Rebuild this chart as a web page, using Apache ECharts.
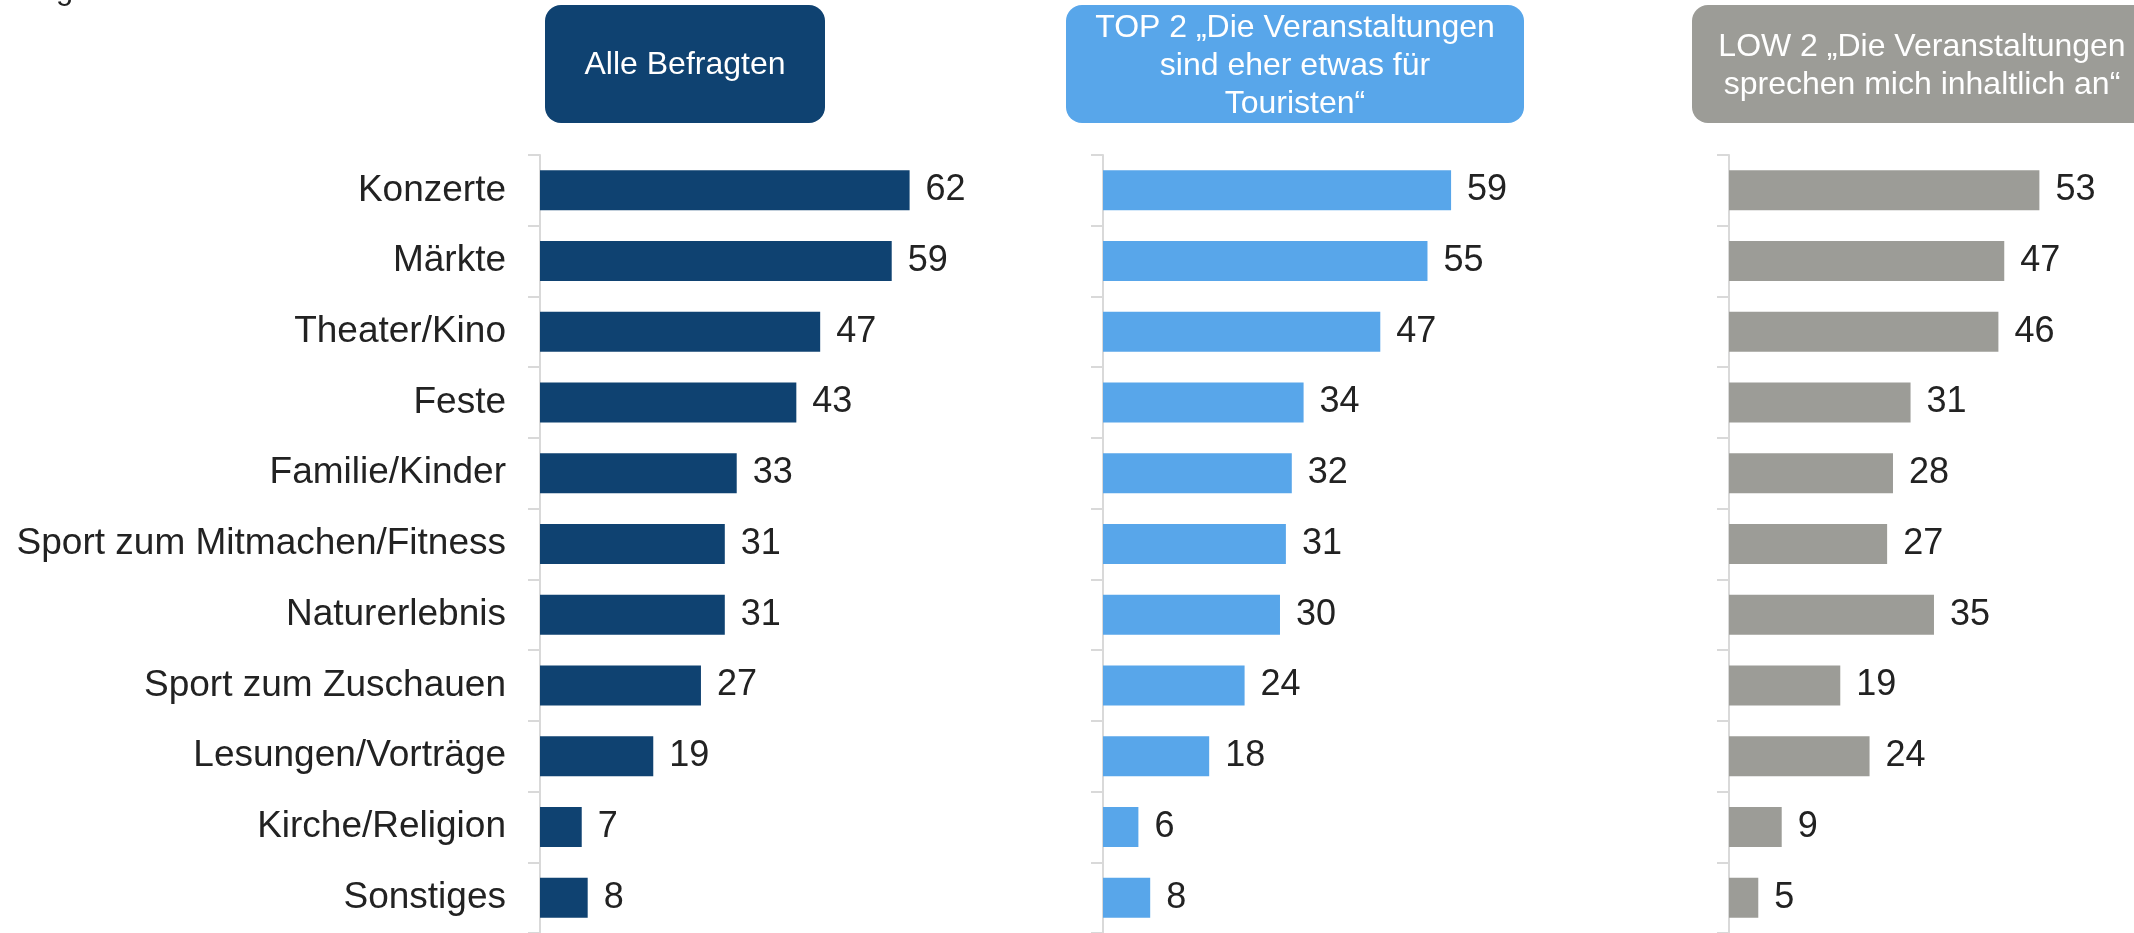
<!DOCTYPE html>
<html>
<head>
<meta charset="utf-8">
<script src="https://cdn.jsdelivr.net/npm/echarts@6/dist/echarts.min.js"></script>
<style>
  html, body { margin: 0; padding: 0; background: #fff; }
  #chart { width: 2134px; height: 933px; }
</style>
</head>
<body>
<div id="chart"></div>
<script>
  // Kategorien und Werte (Angaben in %)
  const categories = ['Konzerte', 'Märkte', 'Theater/Kino', 'Feste', 'Familie/Kinder',
    'Sport zum Mitmachen/Fitness', 'Naturerlebnis', 'Sport zum Zuschauen',
    'Lesungen/Vorträge', 'Kirche/Religion', 'Sonstiges'];
  const alleBefragten = [62, 59, 47, 43, 33, 31, 31, 27, 19, 7, 8];
  const top2Touristen = [59, 55, 47, 34, 32, 31, 30, 24, 18, 6, 8];
  const low2Inhaltlich = [53, 47, 46, 31, 28, 27, 35, 19, 24, 9, 5];
  const headers = ['Alle Befragten',
    'TOP 2 „Die Veranstaltungen\nsind eher etwas für\nTouristen“',
    'LOW 2 „Die Veranstaltungen\nsprechen mich inhaltlich an“'];

  const font = '"Liberation Sans", Arial, sans-serif';
  const colors = ['#0f4271', '#58a6ea', '#9c9c97'];
  const lefts = [540, 1103, 1729];
  const axisMax = [67.1, 67.8, 68.3]; // Skala je Panel leicht unterschiedlich

  let myChart = echarts.init(document.getElementById('chart'));

  const grids = lefts.map(l => ({left: l, top: 155, width: 400, height: 782}));
  const xAxes = lefts.map((l, i) => ({
    type: 'value', gridIndex: i, min: 0, max: axisMax[i], show: false
  }));
  const yAxes = lefts.map((l, i) => ({
    type: 'category', gridIndex: i, inverse: true, data: categories,
    axisLine: {show: true, lineStyle: {color: '#d9d9d9', width: 2}},
    axisTick: {show: true, length: 12, lineStyle: {color: '#d9d9d9', width: 2}},
    axisLabel: {
      show: i === 0, margin: 34, fontSize: 37, fontFamily: font, color: '#222',
      padding: [6, 0, 0, 0]
    }
  }));
  const series = [alleBefragten, top2Touristen, low2Inhaltlich].map((d, i) => ({
    type: 'bar', xAxisIndex: i, yAxisIndex: i, data: d, barWidth: 40,
    itemStyle: {color: colors[i]},
    label: {
      show: true, position: 'right', distance: 16,
      fontSize: 36, fontFamily: font, color: '#222', padding: [6, 0, 0, 0]
    }
  }));

  const boxes = [
    {x: 545, w: 280, cy: 65, lh: 38},
    {x: 1066, w: 458, cy: 66, lh: 38},
    {x: 1692, w: 460, cy: 66, lh: 38}
  ];
  const graphic = [{
    type: 'text', left: 18, top: -25,
    style: {text: 'Angaben in %', fontSize: 31, fontFamily: font, fill: '#222'}
  }];
  boxes.forEach((b, i) => {
    graphic.push({
      type: 'rect', shape: {x: b.x, y: 5, width: b.w, height: 118, r: 16},
      style: {fill: colors[i]}
    });
    graphic.push({
      type: 'text', x: b.x + b.w / 2, y: b.cy,
      style: {
        text: headers[i], fontSize: 32, fontFamily: font, fill: '#fff',
        align: 'center', verticalAlign: 'middle', lineHeight: b.lh
      }
    });
  });

  myChart.setOption({
    animation: false,
    grid: grids,
    xAxis: xAxes,
    yAxis: yAxes,
    series: series,
    graphic: graphic
  });
</script>
</body>
</html>
